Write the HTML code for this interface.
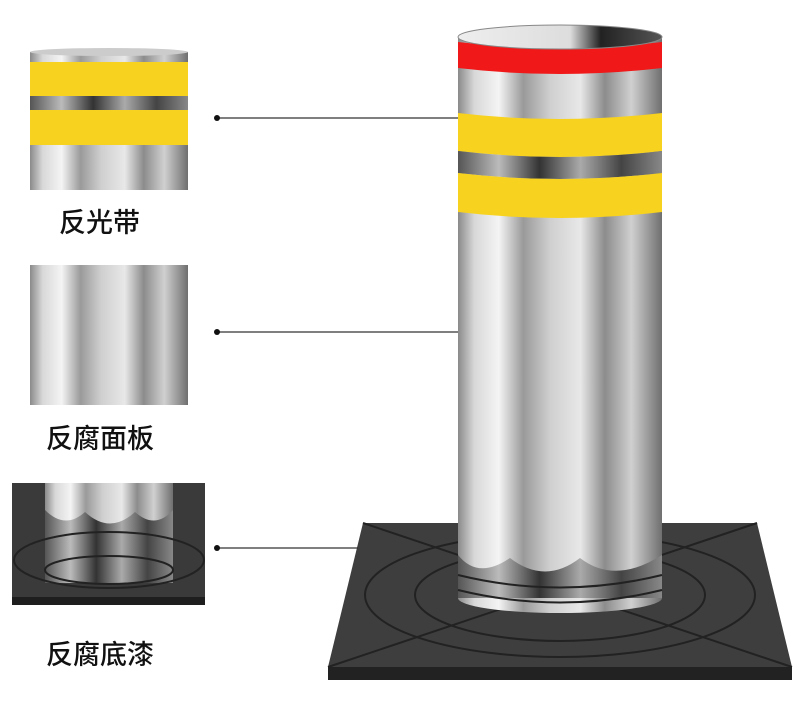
<!DOCTYPE html>
<html><head><meta charset="utf-8"><style>
body{margin:0;background:#fff;width:800px;height:700px;overflow:hidden}
.t{font-family:"Liberation Sans","Noto Sans CJK SC",sans-serif;font-size:27px;fill:#111;font-weight:500}
</style></head><body>
<svg width="800" height="700" viewBox="0 0 800 700">
<defs>
<linearGradient id="m" x1="0" x2="1" y1="0" y2="0">
<stop offset="0" stop-color="#8a8a8a"/><stop offset=".08" stop-color="#d8d8d8"/><stop offset=".2" stop-color="#f4f4f4"/><stop offset=".32" stop-color="#9a9a9a"/><stop offset=".45" stop-color="#cfcfcf"/><stop offset=".6" stop-color="#e8e8e8"/><stop offset=".72" stop-color="#8c8c8c"/><stop offset=".85" stop-color="#d0d0d0"/><stop offset="1" stop-color="#6f6f6f"/></linearGradient>
<linearGradient id="d" x1="0" x2="1"><stop offset="0" stop-color="#555"/><stop offset=".2" stop-color="#bbb"/><stop offset=".4" stop-color="#333"/><stop offset=".6" stop-color="#aaa"/><stop offset=".8" stop-color="#444"/><stop offset="1" stop-color="#888"/></linearGradient>
<linearGradient id="top" x1="0" x2="1"><stop offset="0" stop-color="#eee"/><stop offset=".55" stop-color="#ddd"/><stop offset=".7" stop-color="#222"/><stop offset="1" stop-color="#555"/></linearGradient>
</defs>
<polygon points="328,667 792,667 792,680 328,680" fill="#222"/>
<polygon points="363,523 757,523 792,667 328,667" fill="#3e3e3e"/>
<g stroke="#222" stroke-width="2" fill="none">
<line x1="363" y1="523" x2="792" y2="667"/><line x1="757" y1="523" x2="328" y2="667"/>
<ellipse cx="560" cy="595" rx="195" ry="62"/><ellipse cx="560" cy="595" rx="145" ry="46"/>
</g>
<rect x="458" y="38" width="204" height="560" fill="url(#m)"/>
<ellipse cx="560" cy="598" rx="102" ry="15" fill="url(#m)"/>
<path d="M458,555 Q478,580 510,558 Q545,585 580,558 Q615,585 662,555 L662,598 L458,598Z" fill="url(#d)"/>
<g stroke="#222" stroke-width="2" fill="none"><path d="M458,575 Q560,600 662,575"/><path d="M458,590 Q560,615 662,590"/></g>
<path d="M458,42 Q560,54 662,42 L662,68 Q560,80 458,68Z" fill="#f01818"/>
<path d="M458,113 Q560,125 662,113 L662,151 Q560,163 458,151Z" fill="#f7d21e"/>
<path d="M458,151 Q560,163 662,151 L662,173 Q560,185 458,173Z" fill="url(#d)"/>
<path d="M458,173 Q560,185 662,173 L662,212 Q560,224 458,212Z" fill="#f7d21e"/>
<ellipse cx="560" cy="37" rx="102" ry="12" fill="url(#top)" stroke="#888"/>
<rect x="30" y="52" width="158" height="138" fill="url(#m)"/>
<ellipse cx="109" cy="52" rx="79" ry="4" fill="#ccc"/>
<rect x="30" y="62" width="158" height="34" fill="#f7d21e"/>
<rect x="30" y="96" width="158" height="14" fill="url(#d)"/>
<rect x="30" y="110" width="158" height="35" fill="#f7d21e"/>
<rect x="30" y="265" width="158" height="140" fill="url(#m)"/>
<rect x="12" y="483" width="193" height="122" fill="#3a3a3a"/>
<rect x="12" y="597" width="193" height="8" fill="#1e1e1e"/>
<rect x="45" y="483" width="128" height="100" fill="url(#m)"/>
<path d="M45,510 Q65,530 85,512 Q110,535 135,512 Q155,530 173,510 L173,583 L45,583Z" fill="url(#d)"/>
<g stroke="#222" stroke-width="2" fill="none"><ellipse cx="109" cy="560" rx="95" ry="28"/><ellipse cx="109" cy="570" rx="64" ry="14"/></g>
<g stroke="#333" stroke-width="1.3"><line x1="217" y1="118" x2="458" y2="118"/><line x1="217" y1="332" x2="458" y2="332"/><line x1="217" y1="548" x2="358" y2="548"/></g>
<g fill="#111"><circle cx="217" cy="118" r="3"/><circle cx="217" cy="332" r="3"/><circle cx="217" cy="548" r="3"/></g>
<text class="t" x="59" y="232">反光带</text>
<text class="t" x="46" y="448">反腐面板</text>
<text class="t" x="46" y="664">反腐底漆</text>
</svg>
</body></html>
